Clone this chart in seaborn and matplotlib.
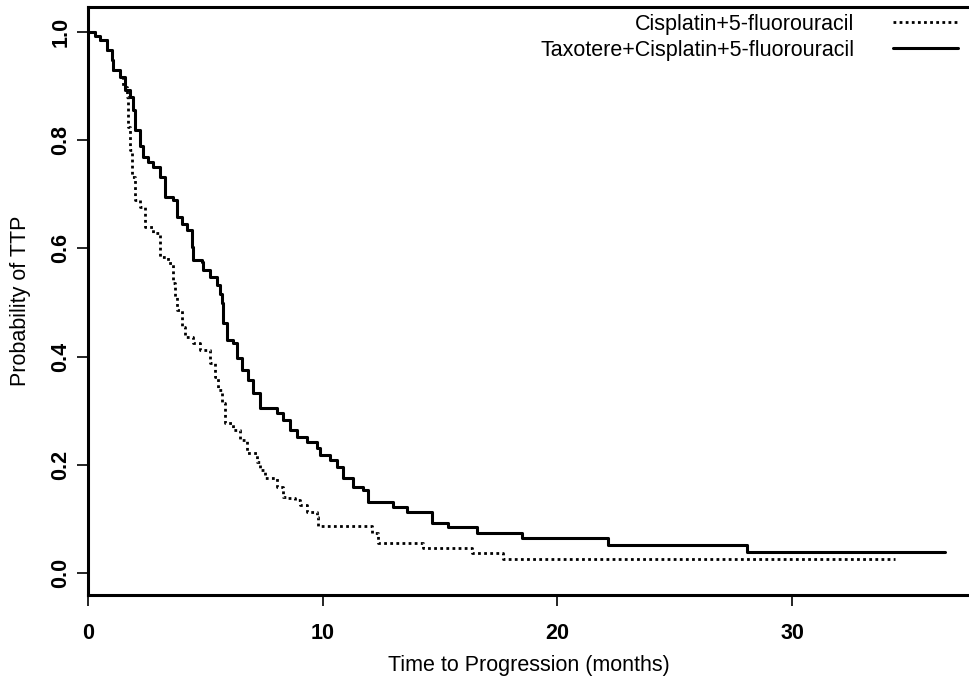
import numpy as np
import pandas as pd
import matplotlib
matplotlib.use('Agg')
import matplotlib.pyplot as plt
import seaborn as sns

# Kaplan-Meier style step data (months, probability)
cf_time = [0, 0.3, 0.51, 0.81, 1.02, 1.07, 1.36, 1.49, 1.66, 1.70, 1.79, 1.87, 2.0,
           2.22, 2.43, 2.77, 3.07, 3.41, 3.62, 3.70, 3.79, 4.0, 4.13, 4.47, 4.77,
           5.20, 5.41, 5.54, 5.71, 5.84, 6.18, 6.48, 6.77, 7.20, 7.33, 7.54, 8.05,
           8.31, 8.52, 8.82, 9.03, 9.33, 9.76, 9.80, 12.10, 12.36, 14.27, 16.36,
           17.68, 34.38]
cf_surv = [1.0, 0.993, 0.985, 0.967, 0.948, 0.930, 0.917, 0.898, 0.880, 0.824, 0.782,
           0.732, 0.689, 0.677, 0.640, 0.628, 0.584, 0.573, 0.536, 0.510, 0.486,
           0.455, 0.436, 0.425, 0.412, 0.388, 0.362, 0.338, 0.314, 0.277, 0.264,
           0.246, 0.222, 0.205, 0.190, 0.176, 0.159, 0.140, 0.139, 0.135, 0.126,
           0.113, 0.104, 0.087, 0.074, 0.055, 0.046, 0.037, 0.026, 0.026]

tcf_time = [0, 0.3, 0.51, 0.81, 1.02, 1.07, 1.36, 1.58, 1.79, 1.92, 2.0, 2.2, 2.34,
            2.55, 2.77, 3.07, 3.28, 3.62, 3.79, 4.0, 4.22, 4.43, 4.47, 4.86, 4.90,
            5.20, 5.50, 5.62, 5.70, 5.75, 5.92, 6.18, 6.35, 6.56, 6.82, 7.03, 7.33,
            8.05, 8.31, 8.61, 8.91, 9.33, 9.76, 9.89, 10.31, 10.61, 10.87, 11.29,
            11.72, 11.93, 13.0, 13.59, 14.66, 15.34, 16.57, 18.49, 22.16, 28.08, 36.5]
tcf_surv = [1.0, 0.993, 0.985, 0.967, 0.948, 0.930, 0.917, 0.893, 0.880, 0.856,
            0.819, 0.790, 0.769, 0.760, 0.750, 0.732, 0.695, 0.689, 0.658, 0.645,
            0.634, 0.603, 0.579, 0.575, 0.560, 0.547, 0.532, 0.515, 0.499, 0.462,
            0.431, 0.425, 0.397, 0.375, 0.357, 0.333, 0.305, 0.296, 0.283, 0.264,
            0.251, 0.242, 0.231, 0.218, 0.209, 0.196, 0.176, 0.159, 0.153, 0.131,
            0.122, 0.113, 0.092, 0.085, 0.074, 0.065, 0.052, 0.039, 0.039]

labels = ['Cisplatin+5-fluorouracil', 'Taxotere+Cisplatin+5-fluorouracil']
x_ticks = [0, 10, 20, 30]
y_ticks = [0.0, 0.2, 0.4, 0.6, 0.8, 1.0]

sns.set_style('white')
plt.rcParams['font.family'] = ['Liberation Sans', 'DejaVu Sans']
plt.rcParams['font.size'] = 15.5
for key in ['text.color', 'axes.labelcolor', 'xtick.color', 'ytick.color']:
    plt.rcParams[key] = 'black'

fig = plt.figure(figsize=(9.69, 6.84), dpi=100)
ax = fig.add_axes([88 / 969, 1 - 595 / 684, 881 / 969, 588 / 684])

df_cf = pd.DataFrame({'time': cf_time, 'surv': cf_surv})
df_tcf = pd.DataFrame({'time': tcf_time, 'surv': tcf_surv})

sns.lineplot(data=df_cf, x='time', y='surv', ax=ax, color='black', estimator=None,
             drawstyle='steps-post', linewidth=2.0, linestyle=(0, (1, 1.2)),
             label=labels[0])
sns.lineplot(data=df_tcf, x='time', y='surv', ax=ax, color='black', estimator=None,
             drawstyle='steps-post', linewidth=2.2, label=labels[1])

ax.set_xlim(0, 37.54)
ax.set_ylim(-0.0407, 1.046)
ax.set_xticks(x_ticks)
ax.set_yticks(y_ticks)
ax.set_xticklabels([str(v) for v in x_ticks], fontweight='bold')
ax.set_yticklabels([f'{v:.1f}' for v in y_ticks], rotation=90, va='center',
                   fontweight='bold')
ax.tick_params(axis='both', direction='out', length=8, width=1.2, color='black',
               labelsize=15.5, left=True, bottom=True)
ax.tick_params(axis='x', pad=12)
ax.tick_params(axis='y', pad=4)

for side in ['left', 'bottom', 'top']:
    ax.spines[side].set_linewidth(2.2)
    ax.spines[side].set_color('black')
ax.spines['right'].set_visible(False)

ax.set_xlabel('Time to Progression (months)', fontsize=15.5)
ax.set_ylabel('Probability of TTP', fontsize=15.5)
ax.xaxis.set_label_coords(0.5, -0.102)
ax.xaxis.label.set_va('top')
ax.yaxis.label.set_va('center')
ax.yaxis.set_label_coords(-0.077, 0.5)

leg = ax.legend(loc='upper right', bbox_to_anchor=((958 - 88) / 881, (595 - 14) / 588),
                frameon=False, markerfirst=False, handlelength=3.0,
                handletextpad=1.8, labelspacing=0.22, borderpad=0,
                borderaxespad=0, fontsize=15.5)

fig.savefig('out.png', dpi=100, facecolor='white')
